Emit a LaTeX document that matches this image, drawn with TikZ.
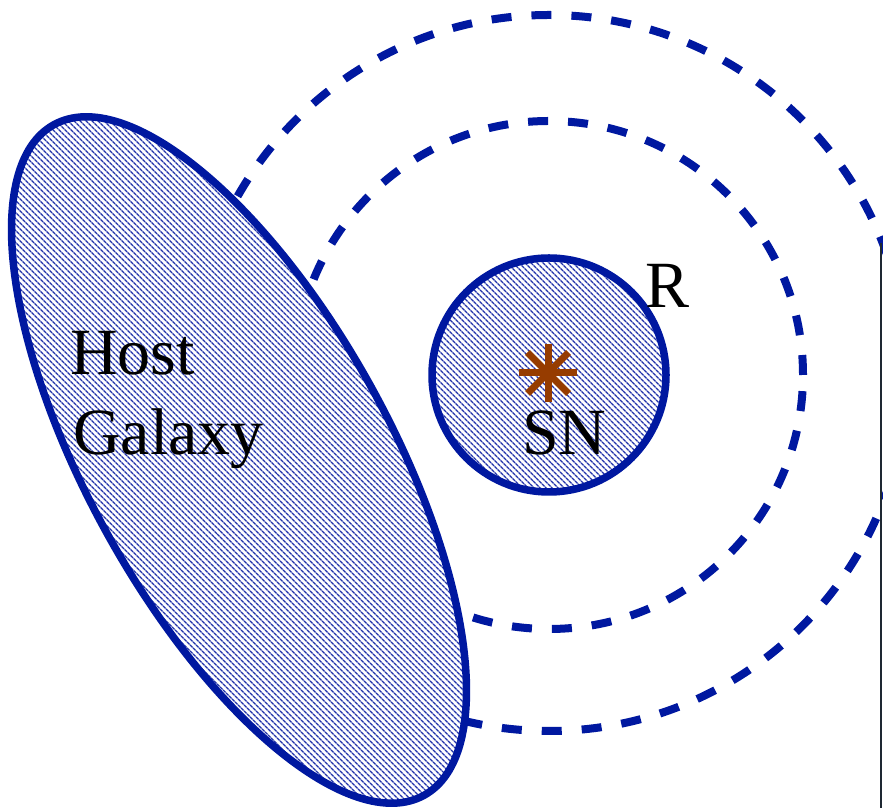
\documentclass[tikz,border=0pt]{standalone}
\usepackage{fontspec}
\setmainfont{Liberation Serif}
\usetikzlibrary{patterns.meta}
\definecolor{mainblue}{RGB}{0,24,160}
\definecolor{hatchblue}{RGB}{34,51,170}
\definecolor{snbrown}{RGB}{150,60,0}
\definecolor{edgedark}{RGB}{30,40,50}
\tikzset{
  dashring/.style={draw=mainblue, line width=8pt, dash pattern=on 20pt off 20pt},
  hatched/.style={pattern={Lines[angle=-45,distance=4pt,line width=1.5pt]}, pattern color=hatchblue},
  outline/.style={draw=mainblue, line width=7.5pt},
  lbl/.style={inner sep=0pt, anchor=base west, font=\fontsize{66}{80}\selectfont}
}
\begin{document}
\begin{tikzpicture}[x=1pt,y=1pt]
\useasboundingbox (0,0) rectangle (883,808);
% dashed rings
\coordinate (c) at (549,433);
\draw[dashring] (549,435) circle [radius=358];
\draw[dashring] (c) circle [radius=254];
% host galaxy
\fill[white] (239,348) ellipse [x radius=383, y radius=151, rotate=-61.1];
\fill[hatched] (239,348) ellipse [x radius=383, y radius=151, rotate=-61.1];
\draw[outline] (239,348) ellipse [x radius=383, y radius=151, rotate=-61.1];
% SN region
\fill[white] (c) circle [radius=117];
\fill[hatched] (c) circle [radius=117];
\draw[outline] (c) circle [radius=117];
% star
\coordinate (s) at (548,435);
\foreach \a in {0,45,...,315}
  \draw[snbrown, line width=7pt] (s) -- ++(\a:29);
% labels
\node[lbl] (host) at (70,433) {Host};
\node[lbl] (gal) at (73,353) {Galaxy};
\node[lbl] (sn) at (522,353) {SN};
\node[lbl] (r) at (645,500) {R};
% right edge line
\draw[edgedark, line width=2pt] (881,0) -- (881,565);
\end{tikzpicture}
\end{document}
